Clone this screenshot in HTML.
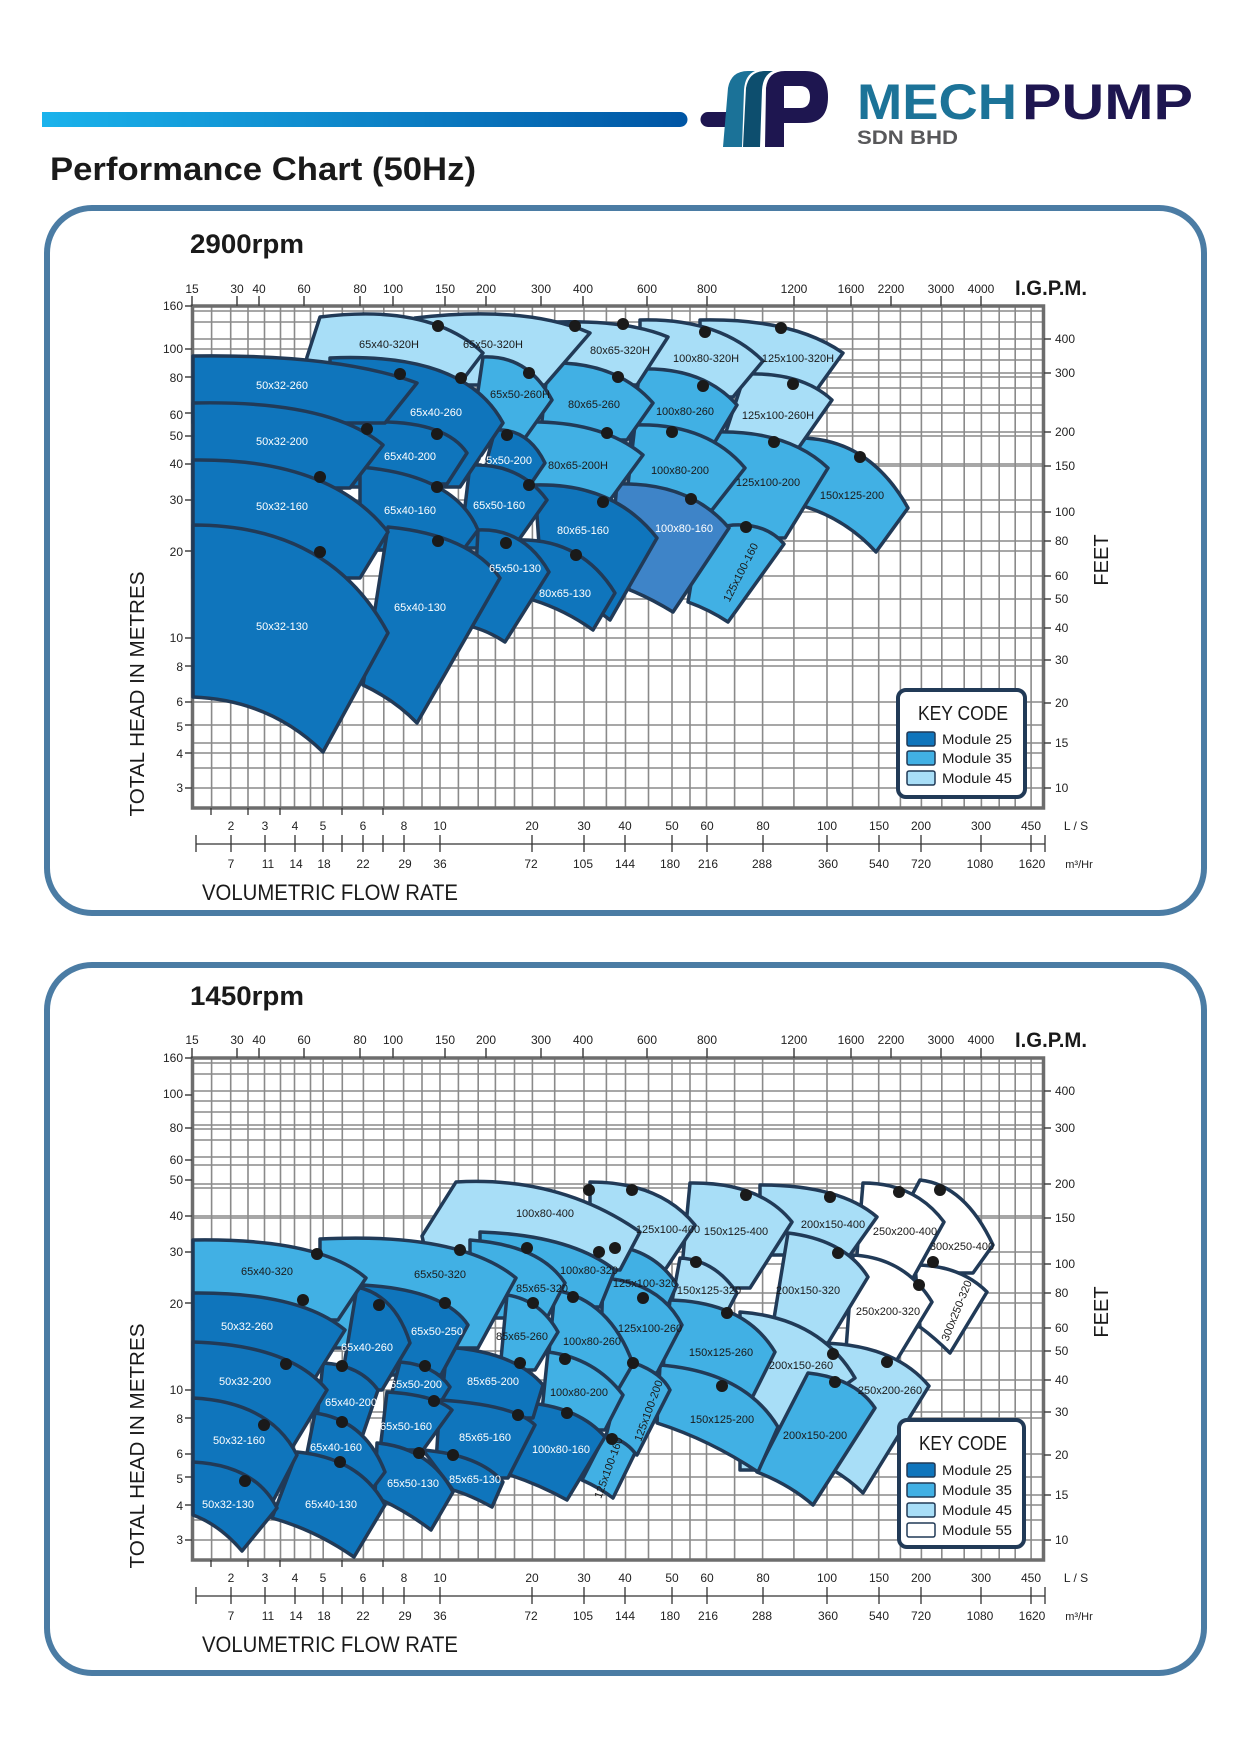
<!DOCTYPE html>
<html><head><meta charset="utf-8"><style>
html,body{margin:0;padding:0;background:#fff;}
svg{display:block;font-family:"Liberation Sans",sans-serif;}
.sh{stroke:#213a57;stroke-width:3.5;stroke-linejoin:round;}
.d{fill:#0f75bc}.m{fill:#41b0e4}.l{fill:#a8def7}.w{fill:#fff}.md{fill:#3e84c8}
.lw{fill:#fff;font-size:11px;text-anchor:middle}
.lb{fill:#1a1a1a;font-size:11px;text-anchor:middle}
.ax{font-size:12px;fill:#222}
.dot{fill:#1a1a1a}
</style></head><body>
<svg width="1241" height="1754" viewBox="0 0 1241 1754" xmlns="http://www.w3.org/2000/svg">
<defs>
<linearGradient id="bar" x1="0" x2="1" y1="0" y2="0"><stop offset="0" stop-color="#1ab3ec"/><stop offset="1" stop-color="#0055a4"/></linearGradient>
</defs>
<!-- header -->
<path d="M42,112 H680 a7.5,7.5 0 0 1 0,15 H42 Z" fill="url(#bar)"/>
<path d="M708,112 H735 V127 H708 a7.5,7.5 0 0 1 0,-15 Z" fill="#1e1650"/>
<path d="M723,147 L728,88 Q731,71 748,71 L755,71 Q745,75 744,90 L742,147 Z" fill="#1b7298"/>
<path d="M743,147 L746,88 Q749,71 765,71 L773,71 Q763,75 762,90 L760,147 Z" fill="#0d4e6e"/>
<path d="M765,147 L766,88 Q768,71 785,71 L805,71 Q828,71 828,97 Q828,123 805,123 L784,123 L784,147 Z M784,86 L784,108 L800,108 Q810,108 810,97 Q810,86 800,86 Z" fill="#1e1650" fill-rule="evenodd"/>
<text x="857" y="119" font-size="50" font-weight="bold" fill="#1c7398" textLength="160" lengthAdjust="spacingAndGlyphs">MECH</text>
<text x="1022" y="119" font-size="50" font-weight="bold" fill="#1e1650" textLength="171" lengthAdjust="spacingAndGlyphs">PUMP</text>
<text x="857" y="144" font-size="19" font-weight="bold" fill="#58585a" textLength="101" lengthAdjust="spacingAndGlyphs">SDN BHD</text>
<text x="50" y="180" font-size="32" font-weight="bold" fill="#1a1a1a" textLength="426" lengthAdjust="spacingAndGlyphs">Performance Chart (50Hz)</text>

<rect x="47" y="208" width="1157" height="705" rx="45" fill="none" stroke="#4b7ca4" stroke-width="6"/>
<rect x="47" y="965" width="1157" height="708" rx="45" fill="none" stroke="#4b7ca4" stroke-width="6"/>

<!-- FRAME chart 1 -->
<g id="f1">
<text x="190" y="253" font-size="27" font-weight="bold" fill="#1a1a1a" textLength="114" lengthAdjust="spacingAndGlyphs">2900rpm</text>
<path d="M211.6,306V808M230.7,306V808M248,306V808M264.5,306V808M280.5,306V808M294.5,306V808M310.5,306V808M323.2,306V808M342.3,306V808M363.4,306V808M383.8,306V808M403.6,306V808M422,306V808M440,306V808M458.4,306V808M478.2,306V808M495.4,306V808M514.5,306V808M532.4,306V808M554.7,306V808M584,306V808M606.4,306V808M625.5,306V808M648.5,306V808M672,306V808M690,306V808M706.5,306V808M734.6,306V808M762.6,306V808M793.9,306V808M827,306V808M852.6,306V808M878.7,306V808M900.4,306V808M921.4,306V808M941.8,306V808M964.2,306V808M981.4,306V808M999.2,306V808M1015.2,306V808M1031.1,306V808 M192,311H1044M192,322H1044M192,339H1044M192,349H1044M192,360H1044M192,373H1044M192,377H1044M192,388H1044M192,405H1044M192,413H1044M192,432H1044M192,436H1044M192,464H1044M192,466H1044M192,500H1044M192,512H1044M192,541H1044M192,551H1044M192,576H1044M192,599H1044M192,628H1044M192,638H1044M192,660H1044M192,666H1044M192,702H1044M192,725H1044M192,743H1044M192,753H1044M192,768H1044M192,788H1044" stroke="#8a8a8a" stroke-width="1.6" fill="none"/>
<rect x="192.5" y="306" width="851" height="502" fill="none" stroke="#6d6d6d" stroke-width="3.5"/>
<g class="ax" text-anchor="middle">
<text x="192" y="293">15</text><text x="237" y="293">30</text><text x="259" y="293">40</text><text x="304" y="293">60</text><text x="360" y="293">80</text><text x="393" y="293">100</text><text x="445" y="293">150</text><text x="486" y="293">200</text><text x="541" y="293">300</text><text x="583" y="293">400</text><text x="647" y="293">600</text><text x="707" y="293">800</text><text x="794" y="293">1200</text><text x="851" y="293">1600</text><text x="891" y="293">2200</text><text x="941" y="293">3000</text><text x="981" y="293">4000</text>
</g>
<path d="M192,296V306M237,296V306M259,296V306M304,296V306M360,296V306M393,296V306M445,296V306M486,296V306M541,296V306M583,296V306M647,296V306M707,296V306M794,296V306M851,296V306M891,296V306M941,296V306M981,296V306" stroke="#444" stroke-width="1.5"/>
<text x="1015" y="295" font-size="21" font-weight="bold" fill="#1a1a1a" textLength="72" lengthAdjust="spacingAndGlyphs">I.G.P.M.</text>
<g class="ax" text-anchor="end">
<text x="183" y="310">160</text><text x="183" y="353">100</text><text x="183" y="382">80</text><text x="183" y="419">60</text><text x="183" y="440">50</text><text x="183" y="468">40</text><text x="183" y="504">30</text><text x="183" y="556">20</text><text x="183" y="642">10</text><text x="183" y="671">8</text><text x="183" y="706">6</text><text x="183" y="731">5</text><text x="183" y="758">4</text><text x="183" y="792">3</text>
</g>
<path d="M185,306H192M185,349H192M185,377H192M185,413H192M185,436H192M185,464H192M185,500H192M185,551H192M185,638H192M185,666H192M185,702H192M185,725H192M185,753H192M185,788H192 M1044,339H1051M1044,373H1051M1044,432H1051M1044,466H1051M1044,512H1051M1044,541H1051M1044,576H1051M1044,599H1051M1044,628H1051M1044,660H1051M1044,703H1051M1044,743H1051M1044,788H1051" stroke="#444" stroke-width="1.5"/>
<g class="ax">
<text x="1055" y="343">400</text><text x="1055" y="377">300</text><text x="1055" y="436">200</text><text x="1055" y="470">150</text><text x="1055" y="516">100</text><text x="1055" y="545">80</text><text x="1055" y="580">60</text><text x="1055" y="603">50</text><text x="1055" y="632">40</text><text x="1055" y="664">30</text><text x="1055" y="707">20</text><text x="1055" y="747">15</text><text x="1055" y="792">10</text>
</g>
<text transform="translate(1108,560) rotate(-90)" font-size="20" text-anchor="middle" fill="#1a1a1a">FEET</text>
<text transform="translate(144,694) rotate(-90)" font-size="20" text-anchor="middle" fill="#1a1a1a" textLength="245" lengthAdjust="spacingAndGlyphs">TOTAL HEAD IN METRES</text>
<g class="ax" text-anchor="middle">
<text x="231" y="830">2</text><text x="265" y="830">3</text><text x="295" y="830">4</text><text x="323" y="830">5</text><text x="363" y="830">6</text><text x="404" y="830">8</text><text x="440" y="830">10</text><text x="532" y="830">20</text><text x="584" y="830">30</text><text x="625" y="830">40</text><text x="672" y="830">50</text><text x="707" y="830">60</text><text x="763" y="830">80</text><text x="827" y="830">100</text><text x="879" y="830">150</text><text x="921" y="830">200</text><text x="981" y="830">300</text><text x="1031" y="830">450</text><text x="1076" y="830">L / S</text>
<text x="231" y="868">7</text><text x="268" y="868">11</text><text x="296" y="868">14</text><text x="324" y="868">18</text><text x="363" y="868">22</text><text x="405" y="868">29</text><text x="440" y="868">36</text><text x="531" y="868">72</text><text x="583" y="868">105</text><text x="625" y="868">144</text><text x="670" y="868">180</text><text x="708" y="868">216</text><text x="762" y="868">288</text><text x="828" y="868">360</text><text x="879" y="868">540</text><text x="921" y="868">720</text><text x="980" y="868">1080</text><text x="1032" y="868">1620</text><text x="1079" y="868" font-size="11">m³/Hr</text>
</g>
<path d="M196,844H1045 M196,835V852M231,835V852M265,835V852M295,835V852M323,835V852M342,835V852M363,835V852M383,835V852M404,835V852M440,835V852M532,835V852M584,835V852M625,835V852M672,835V852M707,835V852M763,835V852M827,835V852M879,835V852M921,835V852M981,835V852M1031,835V852M1045,835V852 M211,808V815M248,808V815M280,808V815M342,808V815M383,808V815" stroke="#333" stroke-width="1.3"/>
<text x="202" y="900" font-size="22" fill="#1a1a1a" textLength="256" lengthAdjust="spacingAndGlyphs">VOLUMETRIC FLOW RATE</text>
</g>

<!-- FRAME chart 2 (copy) -->
<g transform="translate(0,752)">
<text x="190" y="253" font-size="27" font-weight="bold" fill="#1a1a1a" textLength="114" lengthAdjust="spacingAndGlyphs">1450rpm</text>
<path d="M211.6,306V808M230.7,306V808M248,306V808M264.5,306V808M280.5,306V808M294.5,306V808M310.5,306V808M323.2,306V808M342.3,306V808M363.4,306V808M383.8,306V808M403.6,306V808M422,306V808M440,306V808M458.4,306V808M478.2,306V808M495.4,306V808M514.5,306V808M532.4,306V808M554.7,306V808M584,306V808M606.4,306V808M625.5,306V808M648.5,306V808M672,306V808M690,306V808M706.5,306V808M734.6,306V808M762.6,306V808M793.9,306V808M827,306V808M852.6,306V808M878.7,306V808M900.4,306V808M921.4,306V808M941.8,306V808M964.2,306V808M981.4,306V808M999.2,306V808M1015.2,306V808M1031.1,306V808 M192,311H1044M192,322H1044M192,339H1044M192,349H1044M192,360H1044M192,373H1044M192,377H1044M192,388H1044M192,405H1044M192,413H1044M192,432H1044M192,436H1044M192,464H1044M192,466H1044M192,500H1044M192,512H1044M192,541H1044M192,551H1044M192,576H1044M192,599H1044M192,628H1044M192,638H1044M192,660H1044M192,666H1044M192,702H1044M192,725H1044M192,743H1044M192,753H1044M192,768H1044M192,788H1044" stroke="#8a8a8a" stroke-width="1.6" fill="none"/>
<rect x="192.5" y="306" width="851" height="502" fill="none" stroke="#6d6d6d" stroke-width="3.5"/>
<g class="ax" text-anchor="middle">
<text x="192" y="292">15</text><text x="237" y="292">30</text><text x="259" y="292">40</text><text x="304" y="292">60</text><text x="360" y="292">80</text><text x="393" y="292">100</text><text x="445" y="292">150</text><text x="486" y="292">200</text><text x="541" y="292">300</text><text x="583" y="292">400</text><text x="647" y="292">600</text><text x="707" y="292">800</text><text x="794" y="292">1200</text><text x="851" y="292">1600</text><text x="891" y="292">2200</text><text x="941" y="292">3000</text><text x="981" y="292">4000</text>
</g>
<path d="M192,296V306M237,296V306M259,296V306M304,296V306M360,296V306M393,296V306M445,296V306M486,296V306M541,296V306M583,296V306M647,296V306M707,296V306M794,296V306M851,296V306M891,296V306M941,296V306M981,296V306" stroke="#444" stroke-width="1.5"/>
<text x="1015" y="295" font-size="21" font-weight="bold" fill="#1a1a1a" textLength="72" lengthAdjust="spacingAndGlyphs">I.G.P.M.</text>
<g class="ax" text-anchor="end">
<text x="183" y="310">160</text><text x="183" y="346">100</text><text x="183" y="380">80</text><text x="183" y="412">60</text><text x="183" y="432">50</text><text x="183" y="468">40</text><text x="183" y="504">30</text><text x="183" y="556">20</text><text x="183" y="642">10</text><text x="183" y="671">8</text><text x="183" y="706">6</text><text x="183" y="731">5</text><text x="183" y="758">4</text><text x="183" y="792">3</text>
</g>
<path d="M185,306H192M185,343H192M185,376H192M185,408H192M185,428H192M185,464H192M185,500H192M185,551H192M185,638H192M185,666H192M185,702H192M185,725H192M185,753H192M185,788H192 M1044,339H1051M1044,376H1051M1044,432H1051M1044,466H1051M1044,512H1051M1044,541H1051M1044,576H1051M1044,599H1051M1044,628H1051M1044,660H1051M1044,703H1051M1044,743H1051M1044,788H1051" stroke="#444" stroke-width="1.5"/>
<g class="ax">
<text x="1055" y="343">400</text><text x="1055" y="380">300</text><text x="1055" y="436">200</text><text x="1055" y="470">150</text><text x="1055" y="516">100</text><text x="1055" y="545">80</text><text x="1055" y="580">60</text><text x="1055" y="603">50</text><text x="1055" y="632">40</text><text x="1055" y="664">30</text><text x="1055" y="707">20</text><text x="1055" y="747">15</text><text x="1055" y="792">10</text>
</g>
<text transform="translate(1108,560) rotate(-90)" font-size="20" text-anchor="middle" fill="#1a1a1a">FEET</text>
<text transform="translate(144,694) rotate(-90)" font-size="20" text-anchor="middle" fill="#1a1a1a" textLength="245" lengthAdjust="spacingAndGlyphs">TOTAL HEAD IN METRES</text>
<g class="ax" text-anchor="middle">
<text x="231" y="830">2</text><text x="265" y="830">3</text><text x="295" y="830">4</text><text x="323" y="830">5</text><text x="363" y="830">6</text><text x="404" y="830">8</text><text x="440" y="830">10</text><text x="532" y="830">20</text><text x="584" y="830">30</text><text x="625" y="830">40</text><text x="672" y="830">50</text><text x="707" y="830">60</text><text x="763" y="830">80</text><text x="827" y="830">100</text><text x="879" y="830">150</text><text x="921" y="830">200</text><text x="981" y="830">300</text><text x="1031" y="830">450</text><text x="1076" y="830">L / S</text>
<text x="231" y="868">7</text><text x="268" y="868">11</text><text x="296" y="868">14</text><text x="324" y="868">18</text><text x="363" y="868">22</text><text x="405" y="868">29</text><text x="440" y="868">36</text><text x="531" y="868">72</text><text x="583" y="868">105</text><text x="625" y="868">144</text><text x="670" y="868">180</text><text x="708" y="868">216</text><text x="762" y="868">288</text><text x="828" y="868">360</text><text x="879" y="868">540</text><text x="921" y="868">720</text><text x="980" y="868">1080</text><text x="1032" y="868">1620</text><text x="1079" y="868" font-size="11">m³/Hr</text>
</g>
<path d="M196,844H1045 M196,835V852M231,835V852M265,835V852M295,835V852M323,835V852M342,835V852M363,835V852M383,835V852M404,835V852M440,835V852M532,835V852M584,835V852M625,835V852M672,835V852M707,835V852M763,835V852M827,835V852M879,835V852M921,835V852M981,835V852M1031,835V852M1045,835V852 M211,808V815M248,808V815M280,808V815M342,808V815M383,808V815" stroke="#333" stroke-width="1.3"/>
<text x="202" y="900" font-size="22" fill="#1a1a1a" textLength="256" lengthAdjust="spacingAndGlyphs">VOLUMETRIC FLOW RATE</text>
</g>

<!-- CHART 1 SHAPES -->
<g class="sh">
<path class="m" d="M795,438 Q868,436 908,508 L876,552 Q845,518 800,505 Z"/>
<path class="l" d="M700,320 Q793,318 843,353 L815,392 L700,392 Z"/>
<path class="l" d="M745,374 Q802,372 832,400 L797,450 L720,450 Z"/>
<path class="m" d="M715,432 Q788,430 828,468 L785,538 L700,538 Z"/>
<path class="m" d="M733,525 Q766,523 784,544 L728,622 Q710,610 688,602 L700,530 Z"/>
<path class="l" d="M640,320 Q720,318 763,361 L733,397 L640,397 Z"/>
<path class="m" d="M640,369 Q703,367 737,405 L713,445 L630,445 Z"/>
<path class="m" d="M635,425 Q707,423 745,468 L712,510 L625,510 Z"/>
<path class="md" d="M617,484 Q690,482 729,528 L673,612 Q650,598 630,590 L610,560 Z"/>
<path class="l" d="M555,322 Q628,320 668,337 L637,385 L555,385 Z"/>
<path class="m" d="M548,363 Q616,361 653,403 L627,440 L540,440 Z"/>
<path class="m" d="M523,422 Q601,420 643,455 L610,500 L520,500 Z"/>
<path class="d" d="M535,485 Q614,483 657,538 L610,620 Q595,608 580,600 L540,560 Z"/>
<path class="d" d="M517,540 Q581,538 615,593 L593,630 Q565,610 533,600 Z"/>
<path class="l" d="M415,318 Q525,305 590,333 L545,385 L420,385 Z"/>
<path class="m" d="M483,357 Q528,355 552,400 L520,445 L470,445 Z"/>
<path class="d" d="M495,430 Q528,428 545,463 L530,485 L480,485 Z"/>
<path class="d" d="M470,465 Q520,463 547,500 L513,548 L460,548 Z"/>
<path class="d" d="M478,530 Q524,528 549,572 L505,642 Q490,632 473,627 Z"/>
<path class="l" d="M320,317 Q430,303 483,353 L455,390 L300,390 L307,357 Z"/>
<path class="d" d="M330,358 Q465,352 503,423 L460,487 L330,487 Z"/>
<path class="d" d="M370,422 Q445,420 467,453 L447,484 L360,484 Z"/>
<path class="d" d="M360,467 Q455,475 478,530 L463,550 L360,550 Z"/>
<path class="d" d="M388,527 Q470,535 500,578 L417,723 Q395,700 363,685 Z"/>
<path class="d" d="M193,356 Q339,354 417,383 L385,423 L193,423 Z"/>
<path class="d" d="M193,403 Q330,400 383,445 L350,488 L193,488 Z"/>
<path class="d" d="M193,460 Q330,458 388,532 L360,578 L193,578 Z"/>
<path class="d" d="M193,525 Q330,525 388,633 L323,752 Q270,700 193,697 Z"/>
</g>
<g class="dot">
<circle cx="860" cy="457" r="6"/><circle cx="781" cy="328" r="6"/><circle cx="793" cy="384" r="6"/><circle cx="774" cy="442" r="6"/><circle cx="746" cy="527" r="6"/>
<circle cx="705" cy="332" r="6"/><circle cx="703" cy="386" r="6"/><circle cx="672" cy="432" r="6"/><circle cx="691" cy="499" r="6"/>
<circle cx="623" cy="324" r="6"/><circle cx="618" cy="377" r="6"/><circle cx="607" cy="433" r="6"/><circle cx="603" cy="502" r="6"/><circle cx="576" cy="555" r="6"/>
<circle cx="575" cy="326" r="6"/><circle cx="529" cy="373" r="6"/><circle cx="507" cy="435" r="6"/><circle cx="529" cy="485" r="6"/><circle cx="506" cy="543" r="6"/>
<circle cx="438" cy="326" r="6"/><circle cx="461" cy="378" r="6"/><circle cx="437" cy="434" r="6"/><circle cx="437" cy="487" r="6"/><circle cx="438" cy="541" r="6"/>
<circle cx="400" cy="374" r="6"/><circle cx="367" cy="429" r="6"/><circle cx="320" cy="477" r="6"/><circle cx="320" cy="552" r="6"/>
</g>
<g>
<text class="lb" x="852" y="499">150x125-200</text>
<text class="lb" x="798" y="362">125x100-320H</text>
<text class="lb" x="778" y="419">125x100-260H</text>
<text class="lb" x="768" y="486">125x100-200</text>
<text class="lb" transform="translate(744,574) rotate(-63)">125x100-160</text>
<text class="lb" x="706" y="362">100x80-320H</text>
<text class="lb" x="685" y="415">100x80-260</text>
<text class="lb" x="680" y="474">100x80-200</text>
<text class="lw" x="684" y="532">100x80-160</text>
<text class="lb" x="620" y="354">80x65-320H</text>
<text class="lb" x="594" y="408">80x65-260</text>
<text class="lb" x="578" y="469">80x65-200H</text>
<text class="lw" x="583" y="534">80x65-160</text>
<text class="lw" x="565" y="597">80x65-130</text>
<text class="lb" x="493" y="348">65x50-320H</text>
<text class="lb" x="520" y="398">65x50-260H</text>
<text class="lw" x="506" y="464">65x50-200</text>
<text class="lw" x="499" y="509">65x50-160</text>
<text class="lw" x="515" y="572">65x50-130</text>
<text class="lb" x="389" y="348">65x40-320H</text>
<text class="lw" x="436" y="416">65x40-260</text>
<text class="lw" x="410" y="460">65x40-200</text>
<text class="lw" x="410" y="514">65x40-160</text>
<text class="lw" x="420" y="611">65x40-130</text>
<text class="lw" x="282" y="389">50x32-260</text>
<text class="lw" x="282" y="445">50x32-200</text>
<text class="lw" x="282" y="510">50x32-160</text>
<text class="lw" x="282" y="630">50x32-130</text>
</g>
<!-- key 1 -->
<rect x="898" y="690" width="127" height="107" rx="8" fill="#fff" stroke="#213a57" stroke-width="4"/>
<text x="963" y="720" font-size="20" text-anchor="middle" fill="#1a1a1a" textLength="90" lengthAdjust="spacingAndGlyphs">KEY CODE</text>
<g stroke="#213a57" stroke-width="1.5">
<rect x="907" y="732" width="28" height="14" rx="2" fill="#0f75bc"/>
<rect x="907" y="751" width="28" height="14" rx="2" fill="#41b0e4"/>
<rect x="907" y="771" width="28" height="14" rx="2" fill="#a8def7"/>
</g>
<g font-size="14" fill="#1a1a1a">
<text x="942" y="744" textLength="70" lengthAdjust="spacingAndGlyphs">Module  25</text>
<text x="942" y="763" textLength="70" lengthAdjust="spacingAndGlyphs">Module  35</text>
<text x="942" y="783" textLength="70" lengthAdjust="spacingAndGlyphs">Module  45</text>
</g>

<!-- CHART 2 SHAPES -->
<g class="sh">
<path class="w" d="M920,1180 Q965,1185 993,1245 L973,1273 L915,1273 L912,1195 Z"/>
<path class="w" d="M915,1265 Q960,1265 987,1292 L950,1353 Q935,1338 920,1327 Z"/>
<path class="w" d="M863,1183 Q915,1183 944,1222 L913,1278 L855,1278 Z"/>
<path class="w" d="M853,1255 Q905,1258 932,1302 L895,1363 L845,1363 Z"/>
<path class="l" d="M823,1343 Q895,1345 929,1386 L863,1493 Q850,1480 833,1470 Z"/>
<path class="l" d="M760,1185 Q840,1185 877,1217 L850,1255 L760,1255 Z"/>
<path class="l" d="M788,1233 Q845,1240 868,1277 L828,1343 L770,1343 Z"/>
<path class="l" d="M740,1312 Q820,1318 855,1378 L848,1383 L800,1470 L740,1470 Z"/>
<path class="m" d="M808,1373 Q855,1378 875,1408 L813,1505 Q790,1485 757,1472 Z"/>
<path class="l" d="M690,1183 Q760,1182 792,1222 L750,1288 L680,1288 Z"/>
<path class="l" d="M680,1258 Q715,1260 737,1293 L727,1312 L670,1312 Z"/>
<path class="m" d="M670,1300 Q745,1302 775,1352 L752,1398 L660,1398 Z"/>
<path class="m" d="M660,1365 Q745,1372 778,1427 L758,1472 Q710,1440 657,1423 Z"/>
<path class="l" d="M590,1182 Q660,1182 695,1225 L665,1270 L590,1270 Z"/>
<path class="m" d="M610,1245 Q655,1250 677,1285 L668,1305 L605,1305 Z"/>
<path class="m" d="M603,1278 Q660,1282 682,1325 L657,1373 L600,1373 Z"/>
<path class="m" d="M625,1360 Q660,1370 670,1390 L637,1455 L605,1440 Z"/>
<path class="m" d="M605,1435 Q625,1440 635,1453 L613,1498 Q600,1488 582,1480 Z"/>
<path class="l" d="M456,1182 Q560,1176 640,1232 L620,1270 L430,1270 L422,1236 Z"/>
<path class="m" d="M480,1232 Q570,1235 615,1270 L600,1307 L480,1307 Z"/>
<path class="m" d="M555,1290 Q610,1300 633,1364 L615,1395 L545,1395 Z"/>
<path class="m" d="M548,1352 Q595,1358 623,1395 L605,1430 L540,1430 Z"/>
<path class="d" d="M530,1403 Q580,1408 605,1437 L567,1500 Q540,1485 510,1475 Z"/>
<path class="m" d="M470,1240 Q540,1245 565,1283 L547,1318 L470,1318 Z"/>
<path class="m" d="M507,1295 Q540,1300 558,1332 L535,1370 L500,1370 Z"/>
<path class="d" d="M447,1347 Q515,1352 543,1385 L533,1418 L440,1418 Z"/>
<path class="d" d="M440,1400 Q515,1405 535,1425 L508,1478 L435,1478 Z"/>
<path class="d" d="M423,1450 Q480,1455 503,1482 L492,1507 Q470,1495 453,1490 Z"/>
<path class="m" d="M320,1239 Q460,1232 516,1278 L478,1348 L320,1348 Z"/>
<path class="d" d="M363,1285 Q445,1290 468,1325 L441,1375 L355,1375 Z"/>
<path class="d" d="M400,1362 Q435,1365 450,1387 L442,1400 L390,1400 Z"/>
<path class="d" d="M387,1392 Q435,1395 452,1410 L423,1450 L380,1450 Z"/>
<path class="d" d="M377,1443 Q430,1448 453,1492 L431,1530 Q405,1510 375,1497 Z"/>
<path class="d" d="M357,1287 Q395,1295 410,1343 L382,1390 L340,1390 Z"/>
<path class="d" d="M323,1363 Q360,1365 378,1390 L362,1437 L315,1437 Z"/>
<path class="d" d="M315,1413 Q365,1420 385,1472 L373,1488 L300,1488 Z"/>
<path class="d" d="M297,1452 Q360,1458 385,1505 L354,1557 Q315,1530 272,1518 Z"/>
<path class="m" d="M193,1240 Q320,1238 366,1278 L338,1320 L193,1320 Z"/>
<path class="d" d="M193,1293 Q300,1292 345,1330 L315,1378 L193,1378 Z"/>
<path class="d" d="M193,1342 Q290,1345 327,1390 L292,1448 L193,1448 Z"/>
<path class="d" d="M193,1398 Q270,1402 297,1455 L272,1503 L193,1503 Z"/>
<path class="d" d="M193,1462 Q255,1465 277,1508 L242,1551 Q220,1525 193,1515 Z"/>
</g>
<g class="dot">
<circle cx="940" cy="1190" r="6"/><circle cx="933" cy="1262" r="6"/><circle cx="899" cy="1192" r="6"/><circle cx="919" cy="1285" r="6"/><circle cx="887" cy="1362" r="6"/>
<circle cx="830" cy="1197" r="6"/><circle cx="838" cy="1253" r="6"/><circle cx="833" cy="1354" r="6"/><circle cx="835" cy="1382" r="6"/>
<circle cx="746" cy="1195" r="6"/><circle cx="696" cy="1262" r="6"/><circle cx="727" cy="1313" r="6"/><circle cx="722" cy="1386" r="6"/>
<circle cx="632" cy="1190" r="6"/><circle cx="615" cy="1248" r="6"/><circle cx="643" cy="1298" r="6"/><circle cx="633" cy="1363" r="6"/><circle cx="612" cy="1439" r="6"/>
<circle cx="589" cy="1190" r="6"/><circle cx="599" cy="1252" r="6"/><circle cx="573" cy="1297" r="6"/><circle cx="565" cy="1359" r="6"/><circle cx="567" cy="1413" r="6"/>
<circle cx="527" cy="1248" r="6"/><circle cx="533" cy="1303" r="6"/><circle cx="520" cy="1363" r="6"/><circle cx="518" cy="1415" r="6"/><circle cx="453" cy="1455" r="6"/>
<circle cx="460" cy="1250" r="6"/><circle cx="445" cy="1303" r="6"/><circle cx="425" cy="1366" r="6"/><circle cx="434" cy="1401" r="6"/><circle cx="419" cy="1453" r="6"/>
<circle cx="379" cy="1305" r="6"/><circle cx="342" cy="1366" r="6"/><circle cx="342" cy="1422" r="6"/><circle cx="340" cy="1462" r="6"/>
<circle cx="317" cy="1254" r="6"/><circle cx="303" cy="1300" r="6"/><circle cx="286" cy="1364" r="6"/><circle cx="264" cy="1425" r="6"/><circle cx="245" cy="1481" r="6"/>
</g>
<g>
<text class="lb" x="962" y="1250" font-size="9">300x250-400</text>
<text class="lb" transform="translate(960,1312) rotate(-68)" font-size="10">300x250-320</text>
<text class="lb" x="905" y="1235">250x200-400</text>
<text class="lb" x="888" y="1315">250x200-320</text>
<text class="lb" x="890" y="1394">250x200-260</text>
<text class="lb" x="833" y="1228">200x150-400</text>
<text class="lb" x="808" y="1294">200x150-320</text>
<text class="lb" x="801" y="1369">200x150-260</text>
<text class="lb" x="815" y="1439">200x150-200</text>
<text class="lb" x="736" y="1235">150x125-400</text>
<text class="lb" x="709" y="1294">150x125-320</text>
<text class="lb" x="721" y="1356">150x125-260</text>
<text class="lb" x="722" y="1423">150x125-200</text>
<text class="lb" x="668" y="1233">125x100-400</text>
<text class="lb" x="645" y="1287" font-size="9">125x100-320</text>
<text class="lb" x="650" y="1332">125x100-260</text>
<text class="lb" transform="translate(652,1412) rotate(-70)">125x100-200</text>
<text class="lb" transform="translate(612,1469) rotate(-70)" font-size="8">125x100-160</text>
<text class="lb" x="545" y="1217">100x80-400</text>
<text class="lb" x="589" y="1274">100x80-320</text>
<text class="lb" x="592" y="1345">100x80-260</text>
<text class="lb" x="579" y="1396">100x80-200</text>
<text class="lw" x="561" y="1453">100x80-160</text>
<text class="lb" x="542" y="1292" font-size="10">85x65-320</text>
<text class="lb" x="522" y="1340">85x65-260</text>
<text class="lw" x="493" y="1385">85x65-200</text>
<text class="lw" x="485" y="1441">85x65-160</text>
<text class="lw" x="475" y="1483" font-size="9">85x65-130</text>
<text class="lb" x="440" y="1278">65x50-320</text>
<text class="lw" x="437" y="1335">65x50-250</text>
<text class="lw" x="416" y="1388">65x50-200</text>
<text class="lw" x="406" y="1430">65x50-160</text>
<text class="lw" x="413" y="1487">65x50-130</text>
<text class="lw" x="367" y="1351">65x40-260</text>
<text class="lw" x="351" y="1406">65x40-200</text>
<text class="lw" x="336" y="1451">65x40-160</text>
<text class="lw" x="331" y="1508">65x40-130</text>
<text class="lb" x="267" y="1275">65x40-320</text>
<text class="lw" x="247" y="1330">50x32-260</text>
<text class="lw" x="245" y="1385">50x32-200</text>
<text class="lw" x="239" y="1444">50x32-160</text>
<text class="lw" x="228" y="1508">50x32-130</text>
</g>
<!-- key 2 -->
<rect x="899" y="1420" width="125" height="127" rx="8" fill="#fff" stroke="#213a57" stroke-width="4"/>
<text x="963" y="1450" font-size="20" text-anchor="middle" fill="#1a1a1a" textLength="88" lengthAdjust="spacingAndGlyphs">KEY CODE</text>
<g stroke="#213a57" stroke-width="1.5">
<rect x="907" y="1463" width="28" height="14" rx="2" fill="#0f75bc"/>
<rect x="907" y="1483" width="28" height="14" rx="2" fill="#41b0e4"/>
<rect x="907" y="1503" width="28" height="14" rx="2" fill="#a8def7"/>
<rect x="907" y="1523" width="28" height="14" rx="2" fill="#fff"/>
</g>
<g font-size="14" fill="#1a1a1a">
<text x="942" y="1475" textLength="70" lengthAdjust="spacingAndGlyphs">Module  25</text>
<text x="942" y="1495" textLength="70" lengthAdjust="spacingAndGlyphs">Module  35</text>
<text x="942" y="1515" textLength="70" lengthAdjust="spacingAndGlyphs">Module  45</text>
<text x="942" y="1535" textLength="70" lengthAdjust="spacingAndGlyphs">Module  55</text>
</g>
</svg>
</body></html>
